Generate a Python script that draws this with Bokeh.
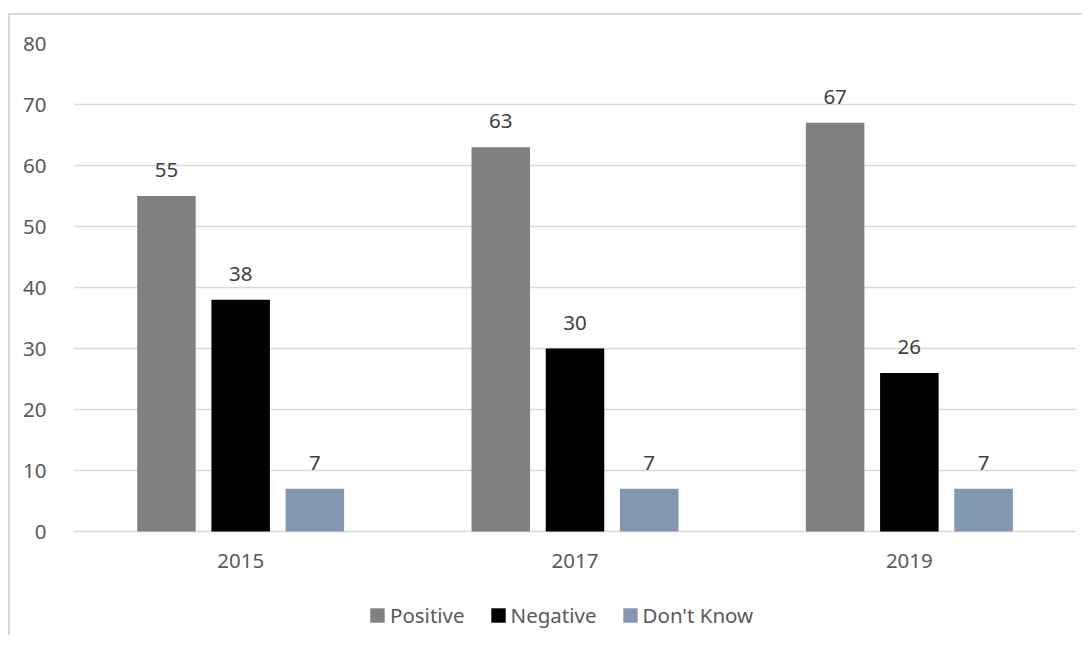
from bokeh.plotting import figure
from bokeh.models import ColumnDataSource, FactorRange, Legend, LegendItem, Range1d, FixedTicker
from bokeh.transform import dodge
from bokeh.core.properties import value
from bokeh.embed import file_html
from bokeh.resources import INLINE

years = ["2015", "2017", "2019"]
positive = [55, 63, 67]
negative = [38, 30, 26]
dont_know = [7, 7, 7]
series_names = ["Positive", "Negative", "Don't Know"]
y_ticks = [0, 10, 20, 30, 40, 50, 60, 70, 80]

colors = ["#808080", "#000000", "#8497B0"]
FONT = "Noto Sans"
FS = "20.5px"

# layout: plot frame spans from y=80 (top) down past y=0 to leave room for
# category labels and legend inside the frame
PX_PER_UNIT = 488 / 80.0
FRAME_H = 594
y_min = 80 - FRAME_H / PX_PER_UNIT

source = ColumnDataSource(data=dict(
    years=years,
    base=[0] * len(years),
    positive=positive,
    negative=negative,
    dont_know=dont_know,
    positive_lbl=[str(v) for v in positive],
    negative_lbl=[str(v) for v in negative],
    dont_know_lbl=[str(v) for v in dont_know],
))

p = figure(
    x_range=FactorRange(*years, range_padding=0),
    y_range=Range1d(y_min, 80),
    width=1074, height=622,
    output_backend="svg", toolbar_location=None,
    x_axis_location=None,
    min_border_left=63, min_border_right=8, min_border_top=28, min_border_bottom=0,
)
p.styles = {"border-left": "2px solid #d9d9d9", "border-top": "2px solid #d9d9d9",
            "margin-top": "13px", "margin-left": "8px"}

p.outline_line_color = None
p.background_fill_color = "white"
p.border_fill_color = "white"

offsets = [-0.222, 0.0, 0.222]
cols = ["positive", "negative", "dont_know"]
renderers = []
for off, col, c in zip(offsets, cols, colors):
    r = p.vbar(x=dodge("years", off, range=p.x_range), top=col, bottom="base", width=0.175,
               source=source, fill_color=c, line_color=None)
    renderers.append(r)
    p.text(x=dodge("years", off, range=p.x_range), y=col, text=col + "_lbl",
           source=source, text_align="center", text_baseline="alphabetic",
           y_offset=-26, text_font=value(FONT), text_font_size=FS,
           text_color="#404040")

# category labels under the baseline
p.text(x="years", y="base", text="years", source=source, text_align="center",
       text_baseline="alphabetic", y_offset=29, text_font=value(FONT),
       text_font_size=FS, text_color="#595959")

p.xgrid.grid_line_color = None
p.ygrid.grid_line_color = "#d9d9d9"
p.ygrid.grid_line_width = 1.5
p.yaxis.ticker = FixedTicker(ticks=y_ticks)

ax = p.yaxis
ax.axis_line_color = None
ax.major_tick_line_color = None
ax.minor_tick_line_color = None
ax.major_label_text_font = FONT
ax.major_label_text_font_size = FS
ax.major_label_text_color = "#595959"
ax.major_label_standoff = 21

legend = Legend(
    items=[LegendItem(label=n, renderers=[r]) for n, r in zip(series_names, renderers)],
    orientation="horizontal",
    location=(295, 8),
    padding=0, margin=0, spacing=24,
    glyph_width=18, glyph_height=18, label_standoff=4,
    label_text_font=FONT, label_text_font_size=FS, label_text_color="#595959",
    border_line_color=None, background_fill_alpha=0,
)
p.add_layout(legend, "center")

open("out.html", "w").write(file_html(p, INLINE))
